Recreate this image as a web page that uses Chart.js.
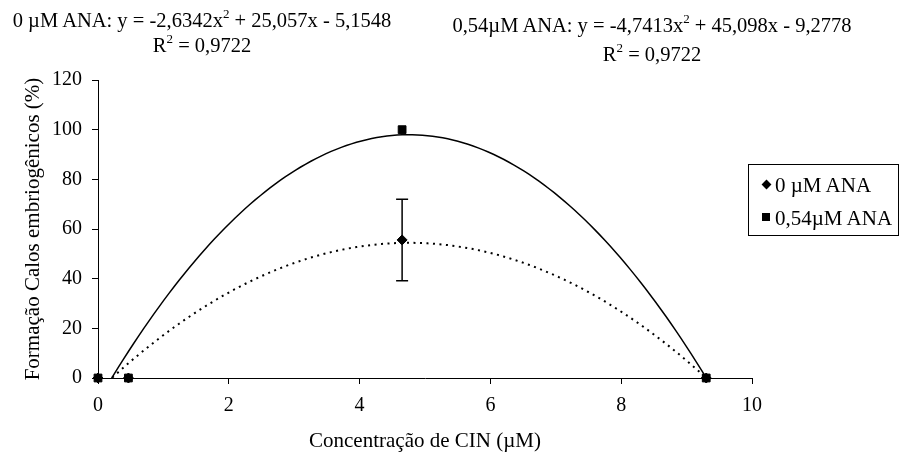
<!DOCTYPE html>
<html>
<head>
<meta charset="utf-8">
<script src="https://cdn.jsdelivr.net/npm/chart.js@4.4.0/dist/chart.umd.min.js"></script>
<style>
  html, body { margin: 0; padding: 0; background: #fff; }
  #wrap { position: relative; width: 902px; height: 454px; font-family: "Liberation Serif", "Times New Roman", serif; color: #000; }
  #chart { position: absolute; left: 0; top: 0; }
  .lbl { position: absolute; font-size: 20.5px; white-space: nowrap; transform: translate(-50%, -50%); line-height: 1; }
  .sup { font-size: 13px; position: relative; top: -9px; }
  #legend { position: absolute; left: 748px; top: 164px; width: 151px; height: 72px; border: 1px solid #000; box-sizing: border-box; font-size: 21px; }
  .item { position: absolute; left: 0; white-space: nowrap; line-height: 1; }
  .mk { position: absolute; background: #000; }
</style>
</head>
<body>
<div id="wrap">
  <canvas id="chart" width="902" height="454"></canvas>
  <div class="lbl" style="left:202px; top:20px;">0 µM ANA: y = -2,6342x<span class="sup">2</span> + 25,057x - 5,1548</div>
  <div class="lbl" style="left:202px; top:45px;">R<span class="sup">2</span> = 0,9722</div>
  <div class="lbl" style="left:652px; top:25px;">0,54µM ANA: y = -4,7413x<span class="sup">2</span> + 45,098x - 9,2778</div>
  <div class="lbl" style="left:652px; top:54px;">R<span class="sup">2</span> = 0,9722</div>
  <div id="legend">
    <div class="mk" style="left:14px; top:16px; width:7px; height:7px; transform:rotate(45deg);"></div>
    <div class="item" style="left:26px; top:10px;">0 µM ANA</div>
    <div class="mk" style="left:13px; top:48px; width:8px; height:8px;"></div>
    <div class="item" style="left:26px; top:43px;">0,54µM ANA</div>
  </div>
</div>
<script>
// CIN concentrations (µM)
const cinX = [0, 0.465, 4.65, 9.3];
// embryogenic callus formation (%)
const ana0 = [0, 0, 55.6, 0];
const ana054 = [0, 0, 100, 0];
const ana0Err = [0, 0, 16.4, 0];
// polynomial trendlines, [a, b, c] for y = a x^2 + b x + c
const fit0 = [-2.6342, 25.057, -5.1548];
const fit054 = [-4.7413, 45.098, -9.2778];
const xTicks = [0, 2, 4, 6, 8, 10];
const yTicks = [0, 20, 40, 60, 80, 100, 120];

const FONT = "'Liberation Serif', 'Times New Roman', serif";

function pts(xs, ys) {
    return xs.map((x, i) => ({ x: x, y: ys[i] }));
}

function trend(coef) {
    const out = [];
    const x0 = cinX[0], x1 = cinX[cinX.length - 1];
    for (let i = 0; i <= 120; i++) {
        const x = x0 + (x1 - x0) * i / 120;
        out.push({ x: x, y: coef[0] * x * x + coef[1] * x + coef[2] });
    }
    return out;
}

const errorBars = {
    id: "errorBars",
    beforeDatasetsDraw(chart) {
        const { ctx, scales: { x, y } } = chart;
        ctx.save();
        ctx.strokeStyle = "#000";
        ctx.lineWidth = 1.5;
        cinX.forEach((cx, i) => {
            const e = ana0Err[i];
            if (!e) return;
            const px = x.getPixelForValue(cx);
            const top = y.getPixelForValue(ana0[i] + e);
            const bot = y.getPixelForValue(ana0[i] - e);
            ctx.beginPath();
            ctx.moveTo(px, top); ctx.lineTo(px, bot);
            ctx.moveTo(px - 6, top); ctx.lineTo(px + 6, top);
            ctx.moveTo(px - 6, bot); ctx.lineTo(px + 6, bot);
            ctx.stroke();
        });
        ctx.restore();
    }
};

new Chart(document.getElementById("chart"), {
    type: "scatter",
    data: {
        datasets: [
            {
                label: "0,54µM ANA",
                data: pts(cinX, ana054),
                pointStyle: "rect",
                pointRadius: 5.5,
                backgroundColor: "#000",
                borderColor: "#000",
                clip: false,
                order: 0
            },
            {
                label: "0 µM ANA",
                data: pts(cinX, ana0),
                pointStyle: "rectRot",
                pointRadius: 5,
                backgroundColor: "#000",
                borderColor: "#000",
                clip: false,
                order: 1
            },
            {
                data: trend(fit054),
                showLine: true,
                pointRadius: 0,
                borderColor: "#000",
                borderWidth: 1.5,
                clip: 0,
                order: 2
            },
            {
                data: trend(fit0),
                showLine: true,
                pointRadius: 0,
                borderColor: "#000",
                borderWidth: 2,
                borderDash: [2, 4.5],
                clip: 0,
                order: 3
            }
        ]
    },
    options: {
        responsive: false,
        animation: false,
        events: [],
        layout: { padding: { top: 80, right: 150, bottom: 0, left: 0 } },
        plugins: {
            legend: { display: false },
            tooltip: { enabled: false }
        },
        scales: {
            x: {
                type: "linear",
                min: 0,
                max: 10,
                afterBuildTicks: (s) => { s.ticks = xTicks.map(v => ({ value: v })); },
                afterFit: (s) => { s.height = 76; },
                grid: { display: true, drawOnChartArea: false, drawTicks: true, tickLength: 6, color: "#000" },
                border: { color: "#000", width: 1 },
                ticks: { color: "#000", font: { family: FONT, size: 20 }, padding: 10, maxRotation: 0 },
                title: { display: true, text: "Concentração de CIN (µM)", color: "#000", font: { family: FONT, size: 21 }, padding: { top: 4, bottom: 0 } }
            },
            y: {
                type: "linear",
                min: 0,
                max: 120,
                afterBuildTicks: (s) => { s.ticks = yTicks.map(v => ({ value: v })); },
                afterFit: (s) => { s.width = 98; },
                grid: { display: true, drawOnChartArea: false, drawTicks: true, tickLength: 6, color: "#000" },
                border: { color: "#000", width: 1 },
                ticks: { color: "#000", font: { family: FONT, size: 20 }, padding: 10 },
                title: { display: true, text: "Formação Calos embriogênicos (%)", color: "#000", font: { family: FONT, size: 21 }, padding: { top: 21, bottom: 4 } }
            }
        }
    },
    plugins: [errorBars]
});
</script>
</body>
</html>
